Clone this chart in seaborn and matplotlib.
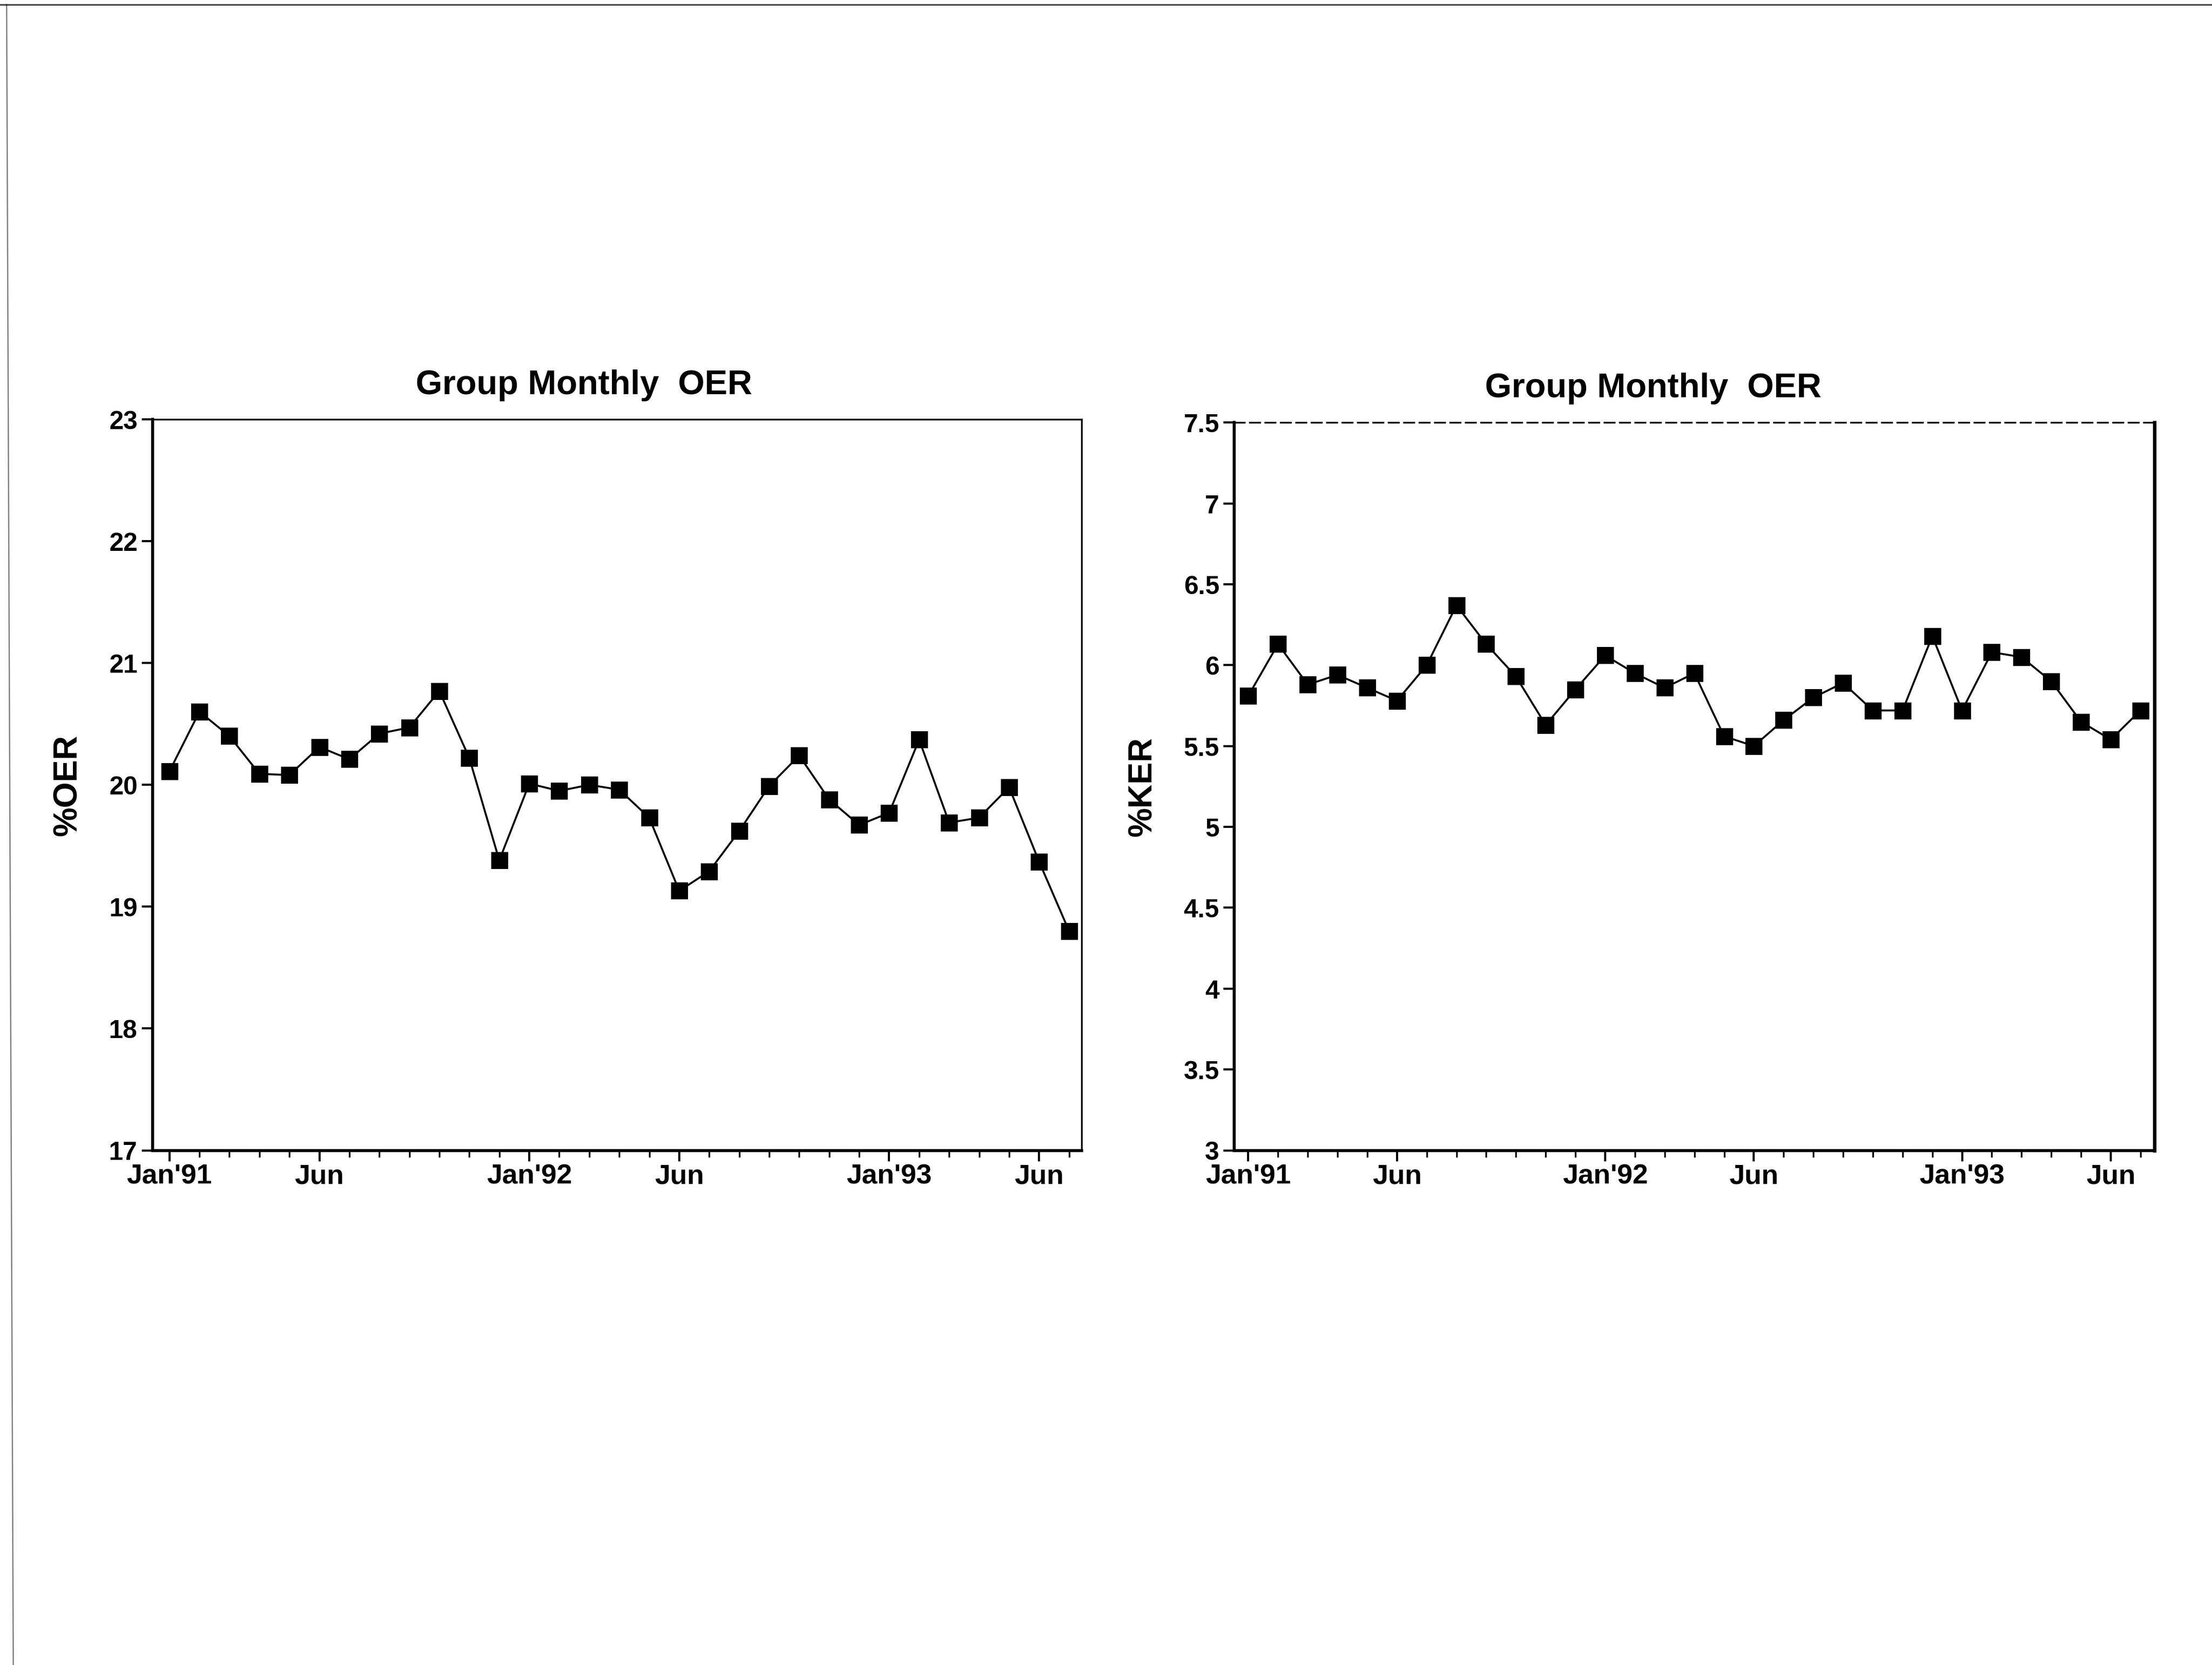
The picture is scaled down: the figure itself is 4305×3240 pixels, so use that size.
import pandas as pd
import matplotlib.pyplot as plt
import seaborn as sns
import numpy as np
from matplotlib.lines import Line2D

# Monthly values, Jan'91 .. Jul'93 (31 months)
months = list(range(31))
tick_pos = [0, 5, 12, 17, 24, 29]
tick_labels = ["Jan'91", "Jun", "Jan'92", "Jun", "Jan'93", "Jun"]

oer = [20.11, 20.60, 20.40, 20.09, 20.08, 20.31, 20.21, 20.42, 20.47, 20.77,
       20.22, 19.38, 20.01, 19.95, 20.00, 19.96, 19.73, 19.13, 19.29, 19.62,
       19.99, 20.24, 19.88, 19.67, 19.77, 20.37, 19.69, 19.73, 19.98, 19.37,
       18.80]

ker = [5.81, 6.13, 5.88, 5.94, 5.86, 5.78, 6.00, 6.37, 6.13, 5.93,
       5.63, 5.85, 6.06, 5.95, 5.86, 5.95, 5.56, 5.50, 5.66, 5.80,
       5.89, 5.72, 5.72, 6.18, 5.72, 6.08, 6.05, 5.90, 5.65, 5.54,
       5.72]

df_oer = pd.DataFrame({'Month': months, 'OER': oer})
df_ker = pd.DataFrame({'Month': months, 'KER': ker})

sns.set_theme(style='ticks')
plt.rcParams['font.family'] = ['Liberation Sans', 'DejaVu Sans']
plt.rcParams['font.weight'] = 'bold'
plt.rcParams['text.color'] = 'black'
plt.rcParams['axes.labelcolor'] = 'black'
plt.rcParams['xtick.color'] = 'black'
plt.rcParams['ytick.color'] = 'black'
plt.rcParams['axes.edgecolor'] = 'black'

fig = plt.figure(figsize=(14.35, 10.803), dpi=300)
ax1 = fig.add_axes([0.069, 0.309, 0.420, 0.439])
ax2 = fig.add_axes([0.558, 0.309, 0.416, 0.437])

def style_axis(ax, ylabel, ylim, yticks, ylabels, xlim, title_x):
    ax.set_xlim(*xlim)
    ax.set_ylim(*ylim)
    ax.set_yticks(yticks)
    ax.set_yticklabels(ylabels, fontsize=12, fontweight='bold')
    ax.set_xticks(tick_pos)
    ax.set_xticklabels(tick_labels, fontsize=13, fontweight='bold')
    ax.set_xticks(months, minor=True)
    ax.tick_params(axis='x', which='major', length=5, width=1, direction='out', pad=1)
    ax.tick_params(axis='x', which='minor', length=3, width=0.8, direction='out')
    ax.tick_params(axis='y', length=5, width=1, direction='out', pad=2)
    ax.set_xlabel('')
    ax.set_ylabel(ylabel, fontsize=15.5, fontweight='bold', labelpad=12)
    ax.set_title('Group Monthly  OER', fontsize=16, fontweight='bold', pad=12,
                 x=title_x)
    for side in ['left', 'bottom']:
        ax.spines[side].set_linewidth(1.4)
    for side in ['top', 'right']:
        ax.spines[side].set_visible(True)
        ax.spines[side].set_linewidth(0.8)
    ax.grid(False)

sns.lineplot(data=df_oer, x='Month', y='OER', ax=ax1, color='black', marker='s',
             markersize=7, markeredgecolor='black', linewidth=0.9)
style_axis(ax1, '%OER', (17, 23), range(17, 24), [str(v) for v in range(17, 24)],
           (-0.56, 30.42), 0.464)

sns.lineplot(data=df_ker, x='Month', y='KER', ax=ax2, color='black', marker='s',
             markersize=7, markeredgecolor='black', linewidth=0.9)
kt = np.arange(3, 7.51, 0.5)
style_axis(ax2, '%KER', (3, 7.5), kt, ['%g' % v for v in kt], (-0.47, 30.47), 0.455)
ax2.spines['top'].set_linestyle((0, (6, 3)))
ax2.spines['right'].set_linewidth(1.6)

# page edges of the scanned sheet
fig.add_artist(Line2D([0.0, 1.0], [0.997, 0.997], color='black', lw=0.8, alpha=0.7))
fig.add_artist(Line2D([0.003, 0.006], [0.997, 0.0], color='black', lw=0.6, alpha=0.5))

fig.savefig('out.png', dpi=300, facecolor='white')
